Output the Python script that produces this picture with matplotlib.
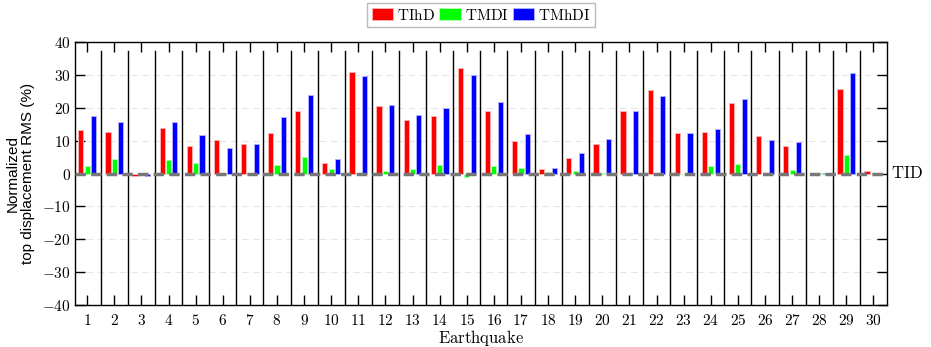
import matplotlib
matplotlib.use("Agg")
import matplotlib.pyplot as plt
import numpy as np

earthquakes = list(range(1, 31))
tihd = [13.1, 12.5, -0.7, 13.7, 8.5, 10.1, 8.9, 12.2, 18.9, 3.1,
        31.0, 20.6, 16.3, 17.4, 32.2, 18.9, 9.8, 1.4, 4.8, 9.1,
        19.1, 25.5, 12.4, 12.5, 21.3, 11.4, 8.3, 0.3, 25.8, 0.7]
tmdi = [2.2, 4.5, -0.2, 4.0, 3.2, 0.0, 0.0, 2.5, 5.1, 1.3,
        -0.3, 0.9, 1.4, 2.7, -1.2, 2.2, 1.8, 0.4, 0.7, 0.1,
        0.1, 0.0, 0.0, 2.2, 2.8, 0.0, 1.0, 0.1, 5.6, 0.0]
tmhdi = [17.4, 15.6, -0.7, 15.8, 11.8, 7.7, 8.9, 17.1, 23.9, 4.4,
         29.6, 20.8, 17.7, 19.8, 30.1, 21.9, 11.9, 1.7, 6.2, 10.4,
         19.1, 23.7, 12.4, 13.5, 22.7, 10.1, 9.5, 0.2, 30.6, 0.3]
yticks = [-40, -30, -20, -10, 0, 10, 20, 30, 40]
series_names = ["TIhD", "TMDI", "TMhDI"]

plt.rcParams['mathtext.fontset'] = 'cm'
plt.rcParams['font.family'] = ['DejaVu Serif']

fig = plt.figure(figsize=(9.31, 3.47), dpi=100)
ax = fig.add_axes([75/931, 1-305/347, (887-75)/931, (305-42)/347])

x = np.array(earthquakes)
off = 0.235
w = 0.19
colors = ['#ff0000', '#00ff00', '#0000ff']
edges = ['#ffb0b0', '#b0ffb0', '#b0b0ff']
handles = []
for i, (vals, c, e) in enumerate(zip([tihd, tmdi, tmhdi], colors, edges)):
    h = ax.bar(x + (i-1)*off, vals, width=w, color=c, edgecolor=e, linewidth=0.7, zorder=3)
    handles.append(h)

ax.set_xlim(0.55, 30.5)
ax.set_ylim(-40, 40)
ax.set_yticks(yticks)
ax.set_yticklabels([f"${v}$" for v in yticks], fontsize=11)
ax.set_xticks(x)
ax.set_xticklabels([f"${v}$" for v in earthquakes], fontsize=11)
ax.tick_params(direction='in', top=True, right=True, length=7, width=1.0)
ax.tick_params(axis='x', pad=6)
ax.tick_params(axis='y', pad=3)

for yv in yticks[1:-1]:
    if yv != 0:
        ax.axhline(yv, color='#e6e6e6', lw=0.8, ls=(0, (6, 4)), zorder=1)
ax.axhline(0, color='#777777', lw=2.5, ls=(0, (3, 1.5)), zorder=4)
for b in np.arange(1.5, 30.5, 1.0):
    ax.plot([b, b], [-40, 37.3], color='black', lw=1.0, zorder=2)

for s in ax.spines.values():
    s.set_linewidth(1.0)

ax.text(1.005, 0.5, r"$\mathrm{TID}$", transform=ax.transAxes, fontsize=12,
        va='center', ha='left')
ax.set_xlabel(r"$\mathrm{Earthquake}$", fontsize=12, labelpad=0)
ax.set_ylabel("Normalized\ntop displacement RMS (%)", fontsize=11,
              family='Liberation Sans', labelpad=5, linespacing=1.15)

leg = fig.legend(handles, [rf"$\mathrm{{{n}}}$" for n in series_names],
                 loc='upper center', bbox_to_anchor=(481/931, 1 - 3/347), ncol=3,
                 fontsize=11, frameon=True, fancybox=False, edgecolor='#aaaaaa',
                 handlelength=1.4, handleheight=0.8, handletextpad=0.25,
                 columnspacing=0.3, borderpad=0.3, borderaxespad=0)
leg.get_frame().set_linewidth(1.0)

fig.savefig("out.png", dpi=100)
